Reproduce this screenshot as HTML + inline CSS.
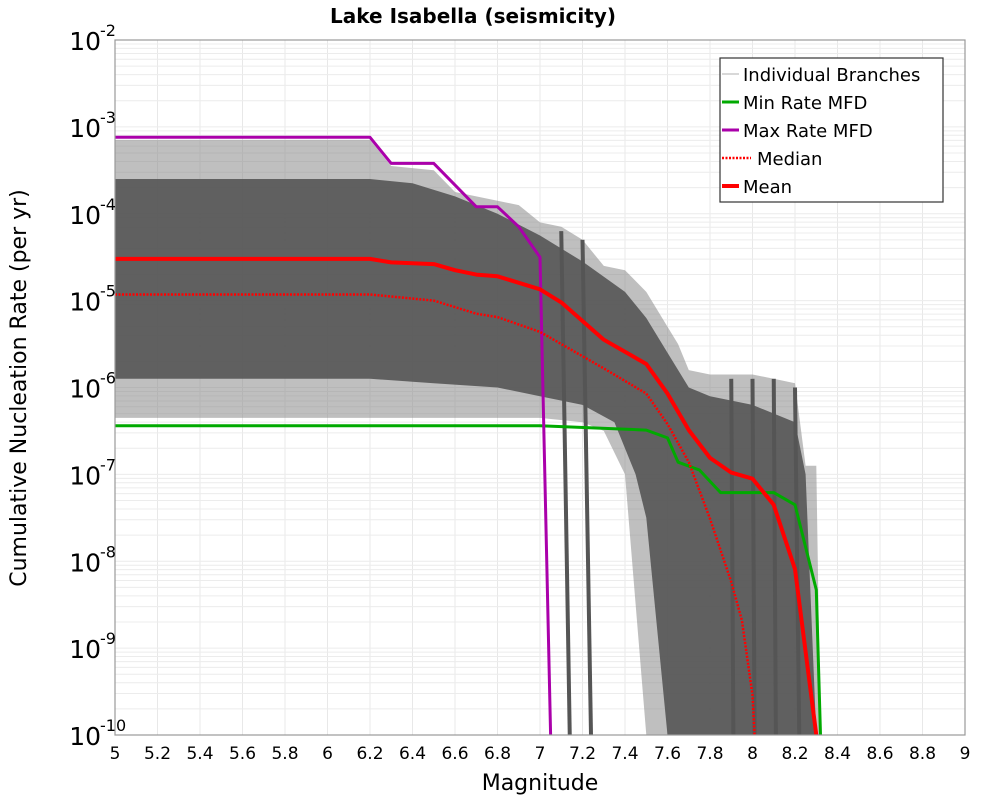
<!DOCTYPE html>
<html><head><meta charset="utf-8"><style>
body{margin:0;background:#fff}
svg text{font-family:"DejaVu Sans","Liberation Sans",sans-serif}
</style></head><body>
<svg id="chart" width="1000" height="800" viewBox="0 0 1000 800" xmlns="http://www.w3.org/2000/svg">
<rect width="1000" height="800" fill="#fff"/>
<text x="473" y="23" font-size="20" font-weight="bold" text-anchor="middle">Lake Isabella (seismicity)</text>
<g id="grid"></g>
<g id="bands"></g>
<g id="series"></g>
<rect x="115" y="40" width="850" height="695" fill="none" stroke="#999" stroke-width="1.2"/>
<g id="xticks"></g>
<g id="yticks"></g>
<text x="540" y="790" font-size="22" text-anchor="middle">Magnitude</text>
<text transform="translate(26,388) rotate(-90)" font-size="22" text-anchor="middle">Cumulative Nucleation Rate (per yr)</text>
<g>
<rect x="720" y="58" width="223" height="144" fill="#fff" stroke="#333" stroke-width="1.2"/>
<line x1="722" y1="74" x2="739" y2="74" stroke="#ccc" stroke-width="1.5"/>
<text x="743" y="81" font-size="18">Individual Branches</text>
<line x1="722" y1="102" x2="739" y2="102" stroke="#00aa00" stroke-width="3"/>
<text x="743" y="109" font-size="18">Min Rate MFD</text>
<line x1="722" y1="130" x2="739" y2="130" stroke="#aa00aa" stroke-width="3"/>
<text x="743" y="137" font-size="18">Max Rate MFD</text>
<line x1="722" y1="158" x2="751" y2="158" stroke="#ff0000" stroke-width="2.5" stroke-dasharray="2,1.5"/>
<text x="757" y="165" font-size="18">Median</text>
<line x1="722" y1="186" x2="739" y2="186" stroke="#ff0000" stroke-width="4"/>
<text x="743" y="193" font-size="18">Mean</text>
</g>
</svg>
<script>
// data (log10 rates)
const xTicks=[5,5.2,5.4,5.6,5.8,6,6.2,6.4,6.6,6.8,7,7.2,7.4,7.6,7.8,8,8.2,8.4,8.6,8.8,9];
const xTickLabels=["5","5.2","5.4","5.6","5.8","6","6.2","6.4","6.6","6.8","7","7.2","7.4","7.6","7.8","8","8.2","8.4","8.6","8.8","9"];
const yDecades=[-2,-3,-4,-5,-6,-7,-8,-9,-10];
const meanM=[5,6.2,6.3,6.5,6.6,6.7,6.8,7.0,7.1,7.3,7.5,7.6,7.7,7.8,7.9,8.0,8.1,8.2,8.3];
const meanV=[-4.52,-4.52,-4.56,-4.58,-4.65,-4.70,-4.72,-4.87,-5.02,-5.45,-5.73,-6.07,-6.49,-6.81,-6.98,-7.05,-7.35,-8.09,-10];
const medianM=[5,6.2,6.5,6.7,6.8,7.0,7.3,7.5,7.6,7.7,7.8,7.9,7.95,8.0,8.01];
const medianV=[-4.93,-4.93,-5.0,-5.15,-5.19,-5.36,-5.78,-6.07,-6.42,-6.86,-7.51,-8.24,-8.68,-9.54,-10];
const minM=[5,7.0,7.5,7.6,7.65,7.75,7.85,8.1,8.2,8.3,8.32];
const minV=[-6.44,-6.44,-6.49,-6.58,-6.86,-6.95,-7.21,-7.21,-7.35,-8.33,-10];
const maxM=[5,6.2,6.3,6.5,6.6,6.7,6.8,6.9,7.0,7.05];
const maxV=[-3.12,-3.12,-3.42,-3.42,-3.67,-3.92,-3.92,-4.15,-4.5,-10];
const outerUpM=[5,6.2,6.3,6.5,6.6,6.7,6.9,7.0,7.1,7.2,7.3,7.4,7.5,7.6,7.65,7.7,7.8,8.0,8.1,8.2,8.25,8.3,8.32];
const outerUpV=[-3.15,-3.15,-3.45,-3.5,-3.75,-3.8,-3.9,-4.1,-4.15,-4.3,-4.6,-4.65,-4.9,-5.3,-5.5,-5.8,-5.85,-5.85,-5.9,-5.95,-6.9,-6.9,-10];
const outerLoM=[5,7.0,7.2,7.3,7.4,7.5];
const outerLoV=[-6.35,-6.35,-6.4,-6.5,-7.0,-10];
const coreUpM=[5,6.2,6.4,6.6,6.8,7.0,7.2,7.4,7.5,7.6,7.7,7.8,8.0,8.2,8.25,8.3];
const coreUpV=[-3.6,-3.6,-3.65,-3.8,-4.0,-4.25,-4.55,-4.9,-5.2,-5.6,-6.0,-6.1,-6.2,-6.4,-7.0,-10];
const coreLoM=[5,6.2,6.5,6.8,7.0,7.2,7.35,7.45,7.5,7.6];
const coreLoV=[-5.9,-5.9,-5.95,-6.0,-6.1,-6.2,-6.4,-7.0,-7.5,-10];
const dropStartM=[7.1,7.2,7.9,8.0,8.1,8.2];
const dropStartV=[-4.2,-4.3,-5.9,-5.9,-5.9,-6.0];
const dropEndM=[7.14,7.24,7.91,8.01,8.11,8.22];

const NS="http://www.w3.org/2000/svg";
const X0=115,X1=965,Y0=40,Y1=735;
const xs=m=>X0+(m-5)/4*(X1-X0);
const ys=v=>Y0+(-2-v)/8*(Y1-Y0);
function mk(tag,attrs,parent){const e=document.createElementNS(NS,tag);for(const k in attrs)e.setAttribute(k,attrs[k]);parent.appendChild(e);return e;}
function pts(M,V){return M.map((m,i)=>xs(m).toFixed(1)+","+ys(V[i]).toFixed(1));}
const grid=document.getElementById('grid');
for(const t of xTicks){const l=mk('line',{x1:xs(t),x2:xs(t),y1:Y0,y2:Y1,stroke:'#e8e8e8','stroke-width':1},grid);

}
for(let d=-10;d<-2;d++){for(let k=1;k<10;k++){const v=d+Math.log10(k);const l=mk('line',{x1:X0,x2:X1,y1:ys(v),y2:ys(v),stroke:'#ececec','stroke-width':1},grid);

}}
const bands=document.getElementById('bands');
// outer envelope
const outer=pts(outerUpM,outerUpV).concat([xs(8.32)+","+Y1, xs(7.5)+","+Y1]).concat(pts(outerLoM,outerLoV).reverse());
const po=mk('polygon',{points:outer.join(" "),fill:'#8a8a8a','fill-opacity':0.55},bands);


const core=pts(coreUpM,coreUpV).concat([xs(coreLoM[coreLoM.length-1])+","+Y1]).concat(pts(coreLoM,coreLoV).reverse());
const pc=mk('polygon',{points:core.join(" "),fill:'#555','fill-opacity':0.9},bands);


dropStartM.forEach((m,i)=>{const l=mk('line',{x1:xs(m),y1:ys(dropStartV[i]),x2:xs(dropEndM[i]),y2:Y1,stroke:'#555','stroke-width':4},bands);

});
const series=document.getElementById('series');
function line(M,V,attrs,name){const p=mk('polyline',Object.assign({points:pts(M,V).join(" "),fill:'none','stroke-linejoin':'round'},attrs),series);

}
line(minM,minV,{stroke:'#00aa00','stroke-width':3},'min-rate-line');
line(maxM,maxV,{stroke:'#aa00aa','stroke-width':3},'max-rate-line');
line(medianM,medianV,{stroke:'#ff0000','stroke-width':2.5,'stroke-dasharray':'2,1.5'},'median-line');
line(meanM,meanV,{stroke:'#ff0000','stroke-width':4},'mean-line');
const xt=document.getElementById('xticks');
xTicks.forEach((t,i)=>{const e=mk('text',{x:xs(t),y:759,'font-size':17,'text-anchor':'middle'},xt);e.textContent=xTickLabels[i];

});
const yt=document.getElementById('yticks');
yDecades.forEach(d=>{const y=ys(d);const g=mk('text',{x:101,y:y+10,'font-size':25,'text-anchor':'end'},yt);g.textContent='10';


const s=mk('text',{x:100,y:y-4,'font-size':16},yt);s.textContent=String(d);

});
</script>
</body></html>
